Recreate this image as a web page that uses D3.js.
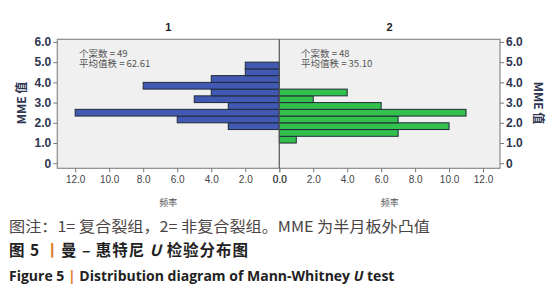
<!DOCTYPE html>
<html>
<head>
<meta charset="utf-8">
<script src="https://cdn.jsdelivr.net/npm/d3@7"></script>
<style>
  body { margin: 0; background: #fff; }
  svg { display: block; }
</style>
</head>
<body>
<div id="chart"></div>
<script>
const width = 557,
      height = 300;

// histogram bins (lower edge, width 1/3)
const binLow = [1.0, 1.333, 1.667, 2.0, 2.333, 2.667, 3.0, 3.333, 3.667, 4.0, 4.333, 4.667];
const binWidth = 1 / 3;
const group1Counts = [0, 0, 3, 6, 12, 3, 5, 4, 8, 4, 2, 2];
const group2Counts = [1, 7, 10, 7, 11, 6, 2, 4, 0, 0, 0, 0];

const groupTitles = ['1', '2'];
const groupN = ['个案数 = 49', '个案数 = 48'];
const groupRank = ['平均值秩 = 62.61', '平均值秩 = 35.10'];

const yTicks = [0, 1, 2, 3, 4, 5, 6];
const xTicks = [0, 2, 4, 6, 8, 10, 12];

// frame geometry
const fLeft = 57.3, fRight = 500, fTop = 39.3, fBottom = 168.3, fMid = 279.3;

const y = d3.scaleLinear().domain([-0.25, 6.13]).range([fBottom, fTop]);
const xL = d3.scaleLinear().domain([0, 13.05]).range([fMid, fLeft]);
const xR = d3.scaleLinear().domain([0, 13]).range([fMid, fRight]);

const svg = d3.select('#chart').append('svg')
  .attr('width', width)
  .attr('height', height);

// plot background
svg.append('rect')
  .attr('x', fLeft).attr('y', fTop)
  .attr('width', fRight - fLeft).attr('height', fBottom - fTop)
  .attr('fill', '#f0f0f0');

// bars
function drawBars(counts, xs, color) {
  const data = binLow.map((b, i) => ({ b, c: counts[i] })).filter(d => d.c > 0);
  svg.append('g').selectAll('rect')
    .data(data)
    .enter().append('rect')
    .attr('x', d => Math.min(xs(0), xs(d.c)))
    .attr('y', d => y(d.b + binWidth))
    .attr('width', d => Math.abs(xs(d.c) - xs(0)))
    .attr('height', d => y(d.b) - y(d.b + binWidth))
    .attr('fill', color)
    .attr('stroke', '#1f2a3a')
    .attr('stroke-width', 1);
}
drawBars(group1Counts, xL, '#4159b2');
drawBars(group2Counts, xR, '#34c04c');

// frame + middle line
svg.append('rect')
  .attr('x', fLeft).attr('y', fTop)
  .attr('width', fRight - fLeft).attr('height', fBottom - fTop)
  .attr('fill', 'none')
  .attr('stroke', '#8a8a8a')
  .attr('stroke-width', 1.2);
svg.append('line')
  .attr('x1', fMid).attr('x2', fMid)
  .attr('y1', fTop).attr('y2', fBottom)
  .attr('stroke', '#555')
  .attr('stroke-width', 1.2);

const fmt = d => d === 0 ? '0' : d3.format('.1f')(d);

// y axes
const yAxisL = svg.append('g')
  .attr('transform', `translate(${fLeft},0)`)
  .call(d3.axisLeft(y).tickValues(yTicks).tickFormat(fmt).tickSize(4).tickPadding(2));
const yAxisR = svg.append('g')
  .attr('transform', `translate(${fRight},0)`)
  .call(d3.axisRight(y).tickValues(yTicks).tickFormat(fmt).tickSize(4).tickPadding(2));
[yAxisL, yAxisR].forEach(a => {
  a.select('.domain').remove();
  a.selectAll('line').attr('stroke', '#777');
  a.selectAll('text')
    .attr('fill', '#2e3550')
    .style('font-family', 'Arial, "Liberation Sans", sans-serif')
    .style('font-size', '12px')
    .style('font-weight', 'bold');
});

// x axes
const xAxisL = svg.append('g')
  .attr('transform', `translate(0,${fBottom})`)
  .call(d3.axisBottom(xL).tickValues(xTicks).tickFormat(d3.format('.1f')).tickSize(4).tickPadding(4));
const xAxisR = svg.append('g')
  .attr('transform', `translate(0,${fBottom})`)
  .call(d3.axisBottom(xR).tickValues(xTicks).tickFormat(d3.format('.1f')).tickSize(4).tickPadding(4));
[xAxisL, xAxisR].forEach(a => {
  a.select('.domain').remove();
  a.selectAll('line').attr('stroke', '#777');
  a.selectAll('text')
    .attr('fill', '#444')
    .style('font-family', 'Arial, "Liberation Sans", sans-serif')
    .style('font-size', '10px');
});

// panel titles + annotations
const centers = [(fLeft + fMid) / 2, (fMid + fRight) / 2];
const annX = [79, 301];
groupTitles.forEach((t, i) => {
  svg.append('text')
    .attr('x', centers[i]).attr('y', 31)
    .attr('text-anchor', 'middle')
    .style('font-family', 'Arial, "Liberation Sans", sans-serif')
    .style('font-size', '11px').style('font-weight', 'bold')
    .attr('fill', '#222')
    .text(t);
  const ann = svg.append('text')
    .attr('x', annX[i]).attr('y', 56.5)
    .style('font-family', '"Noto Sans CJK SC", sans-serif')
    .style('font-size', '9.5px')
    .attr('fill', '#555');
  ann.append('tspan').attr('x', annX[i]).text(groupN[i]);
  ann.append('tspan').attr('x', annX[i]).attr('dy', 10.5).text(groupRank[i]);
});

// x axis titles, below the tick labels
svg.selectAll('text.xtitle')
  .data(centers)
  .enter().append('text')
  .attr('class', 'xtitle')
  .attr('transform', d => `translate(${d},206)`)
  .attr('text-anchor', 'middle')
  .style('font-family', '"Noto Sans CJK SC", sans-serif')
  .style('font-size', '9px')
  .attr('fill', '#555')
  .text('频率');

// y axis titles
svg.append('text')
  .attr('transform', 'translate(26,103) rotate(-90)')
  .attr('text-anchor', 'middle')
  .style('font-family', '"Noto Sans CJK SC", sans-serif')
  .style('font-size', '12px').style('font-weight', 'bold')
  .attr('fill', '#2e3550')
  .text('MME 值');
svg.append('text')
  .attr('transform', 'translate(534,103) rotate(90)')
  .attr('text-anchor', 'middle')
  .style('font-family', '"Noto Sans CJK SC", sans-serif')
  .style('font-size', '12px').style('font-weight', 'bold')
  .attr('fill', '#2e3550')
  .text('MME 值');

// captions
svg.append('text')
  .attr('x', 9).attr('y', 232)
  .attr('textLength', 421).attr('lengthAdjust', 'spacingAndGlyphs')
  .style('font-family', '"Noto Sans CJK SC", sans-serif')
  .style('font-size', '15px')
  .attr('fill', '#4a4444')
  .text('图注：1= 复合裂组，2= 非复合裂组。MME 为半月板外凸值');

const cap2 = svg.append('text')
  .attr('x', 9).attr('y', 256)
  .attr('textLength', 239).attr('lengthAdjust', 'spacing')
  .style('font-family', '"Noto Sans CJK SC", sans-serif')
  .style('font-size', '15.5px').style('font-weight', 'bold')
  .attr('fill', '#222');
cap2.append('tspan').text('图 5 ');
cap2.append('tspan').attr('fill', '#e07a2a').text(' 丨');
cap2.append('tspan').text('曼 – 惠特尼 ');
cap2.append('tspan').style('font-style', 'italic').text('U');
cap2.append('tspan').text(' 检验分布图');

const cap3 = svg.append('text')
  .attr('x', 9).attr('y', 281)
  .style('font-family', '"Open Sans", sans-serif')
  .style('font-size', '14px').style('font-weight', 'bold')
  .attr('fill', '#222');
cap3.append('tspan').text('Figure 5 ');
cap3.append('tspan').attr('fill', '#e07a2a').text(' | ');
cap3.append('tspan').text(' Distribution diagram of Mann-Whitney ');
cap3.append('tspan').style('font-style', 'italic').text('U');
cap3.append('tspan').text(' test');
</script>
</body>
</html>
